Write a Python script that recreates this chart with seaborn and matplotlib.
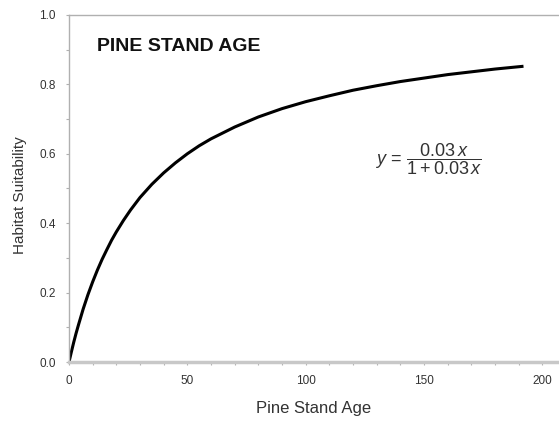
import matplotlib
matplotlib.use("Agg")
import matplotlib.pyplot as plt
import pandas as pd
import seaborn as sns

# values
stand_age = [0, 1, 2, 3, 4, 5, 6, 8, 10, 12, 14, 16, 18, 20, 23, 26, 30, 35,
             40, 45, 50, 55, 60, 70, 80, 90, 100, 110, 120, 130, 140, 150,
             160, 170, 180, 192]
suitability = [0.000, 0.029, 0.057, 0.083, 0.107, 0.130, 0.153, 0.194, 0.231,
               0.265, 0.296, 0.324, 0.351, 0.375, 0.408, 0.438, 0.474, 0.512,
               0.545, 0.574, 0.600, 0.623, 0.643, 0.677, 0.706, 0.730, 0.750,
               0.767, 0.783, 0.796, 0.808, 0.818, 0.828, 0.836, 0.844, 0.852]
x_ticks = [0, 50, 100, 150, 200]
y_ticks = [0.0, 0.2, 0.4, 0.6, 0.8, 1.0]

INK, MUTED, SPINE = "#111111", "#333333", "#b0b0b0"

sns.set_theme(style="ticks")
plt.rcParams["font.family"] = ["Liberation Sans", "DejaVu Sans"]
plt.rcParams.update(
    {
        "mathtext.fontset": "custom",
        "mathtext.rm": "Liberation Sans",
        "mathtext.it": "Liberation Sans:italic",
    }
)

df = pd.DataFrame({"age": stand_age, "hs": suitability})

fig = plt.figure(figsize=(5.59, 4.25), dpi=100)
ax = fig.add_axes([0.1234, 0.148, 0.8766, 0.817])
sns.lineplot(data=df, x="age", y="hs", color="black", lw=2.2, ax=ax,
             solid_joinstyle="round", solid_capstyle="butt")

ax.set_xlim(0, 207)
ax.set_ylim(0, 1.0)
ax.set_xticks(x_ticks)
ax.set_yticks(y_ticks)
ax.set_xticks(range(0, 207, 10), minor=True)
ax.set_yticks([0.1, 0.3, 0.5, 0.7, 0.9], minor=True)
ax.set_yticklabels([f"{v:.1f}" for v in y_ticks])
ax.tick_params(axis="both", which="both", colors=SPINE, labelcolor=MUTED,
               labelsize=8.5, direction="out", length=2.5, width=0.8)
ax.tick_params(axis="x", which="major", pad=7)
ax.tick_params(axis="y", which="major", pad=7)

for side in ["left", "top"]:
    ax.spines[side].set_color(SPINE)
    ax.spines[side].set_linewidth(1.0)
ax.spines["bottom"].set_color("#c8c8c8")
ax.spines["bottom"].set_linewidth(2.5)
ax.spines["right"].set_visible(False)

ax.set_xlabel("Pine Stand Age", fontsize=12, color=MUTED, labelpad=10)
ax.set_ylabel("Habitat Suitability", fontsize=11, color=MUTED)
ax.yaxis.set_label_coords(-0.086, 0.48)

ax.text(12, 0.91, "PINE STAND AGE", fontsize=14, fontweight="bold",
        color=INK, va="center")
ax.text(152, 0.585, r"$y\,=\,\dfrac{0.03\,x}{1+0.03\,x}$", fontsize=13,
        color=MUTED, ha="center", va="center")

fig.savefig("out.png", dpi=100)
